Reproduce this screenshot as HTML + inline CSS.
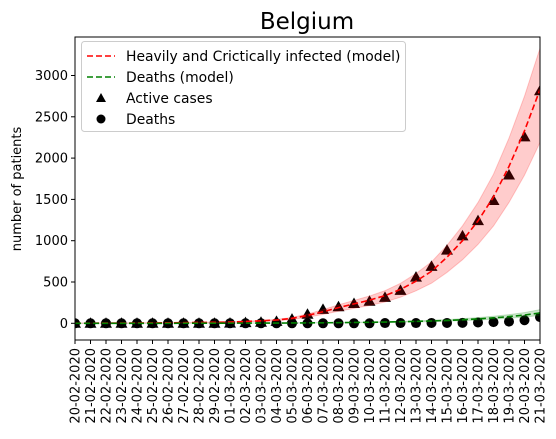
<!DOCTYPE html>
<html><head><meta charset="utf-8"><style>
body{margin:0;background:#fff;}
svg{display:block;font-family:"DejaVu Sans","Liberation Sans",sans-serif;}
</style></head><body>
<svg id="chart" width="556" height="439"></svg>
<script>
const dates=["20-02-2020","21-02-2020","22-02-2020","23-02-2020","24-02-2020","25-02-2020","26-02-2020","27-02-2020","28-02-2020","29-02-2020","01-03-2020","02-03-2020","03-03-2020","04-03-2020","05-03-2020","06-03-2020","07-03-2020","08-03-2020","09-03-2020","10-03-2020","11-03-2020","12-03-2020","13-03-2020","14-03-2020","15-03-2020","16-03-2020","17-03-2020","18-03-2020","19-03-2020","20-03-2020","21-03-2020"];
const activeCases=[1,1,1,1,1,1,1,1,1,1,2,8,13,23,50,109,169,200,239,267,314,399,559,689,886,1058,1243,1486,1795,2257,2815];
const deaths=[0,0,0,0,0,0,0,0,0,0,0,0,0,0,0,0,0,0,0,0,3,3,3,4,4,5,10,14,21,37,75];
const modelInfected=[2,2,3,3,4,5,6,8,10,12,15,22,30,40,60,95,140,190,235,280,335,410,510,630,800,1000,1240,1530,1900,2330,2830];
const infectedUpper=[2,3,3,4,5,6,7,9,12,14,18,26,35,47,71,112,165,224,277,330,395,484,602,743,944,1180,1463,1805,2242,2750,3330];
const infectedLower=[1,2,2,2,3,4,5,6,8,9,12,17,23,31,46,73,108,146,181,216,258,316,393,485,616,770,955,1178,1463,1794,2190];
const modelDeaths=[0,0,0,0,0,0,0,1,1,1,2,2,3,3,4,5,6,8,10,12,15,19,23,28,35,43,53,66,81,100,125];
const deathsUpper=[0,0,0,0,0,1,1,1,1,2,2,3,4,4,5,7,8,10,13,16,20,24,30,37,45,56,69,85,105,130,165];
const deathsLower=[0,0,0,0,0,0,0,0,1,1,1,2,2,2,3,4,5,6,7,9,11,14,17,21,26,32,40,50,61,76,95];
const yTicks=[0,500,1000,1500,2000,2500,3000];

const NS="http://www.w3.org/2000/svg";
const svg=document.getElementById('chart');
const L=75,R=540,T=37,B=340;
const X=i=>L+(R-L)*i/(dates.length-1);
const Y=v=>323.3-v*(41.3/500);
function el(tag,attrs,parent){const e=document.createElementNS(NS,tag);for(const k in attrs)e.setAttribute(k,attrs[k]);(parent||svg).appendChild(e);return e;}

const title=el('text',{x:307,y:29,'text-anchor':'middle','font-size':23});
title.textContent='Belgium';



const ylab=el('text',{transform:'translate(21,189) rotate(-90)','text-anchor':'middle','font-size':13});
ylab.textContent='number of patients';



const defs=el('defs',{});
const cp=el('clipPath',{id:'clip'},defs);el('rect',{x:L,y:T,width:R-L,height:B-T},cp);
const g=el('g',{'clip-path':'url(#clip)'});



function band(up,lo,color,name){
  let d='M'+up.map((v,i)=>X(i)+','+Y(v)).join('L');
  for(let i=lo.length-1;i>=0;i--)d+='L'+X(i)+','+Y(lo[i]);
  const p=el('path',{d:d+'Z',fill:color,'fill-opacity':0.2,stroke:color,'stroke-opacity':0.2},g);
  
  
}
function line(vals,color,name){
  const p=el('path',{d:'M'+vals.map((v,i)=>X(i)+','+Y(v)).join('L'),fill:'none',stroke:color,'stroke-width':1.6,'stroke-dasharray':'6,3'},g);
  
  
}
activeCases.forEach((v,i)=>{
  const x=X(i),y=Y(v);
  const t=el('polygon',{points:`${x},${y-6} ${x-6},${y+4.5} ${x+6},${y+4.5}`,fill:'#000'},g);
  
  
});
deaths.forEach((v,i)=>{
  const c=el('circle',{cx:X(i),cy:Y(v),r:5,fill:'#000'},g);
  
  
});
band(infectedUpper,infectedLower,'red','infected-confidence-band');
band(deathsUpper,deathsLower,'green','deaths-confidence-band');
line(modelInfected,'red','infected-model-line');
line(modelDeaths,'green','deaths-model-line');

const frame=el('rect',{x:L,y:T,width:R-L,height:B-T,fill:'none',stroke:'#000','stroke-width':1});



yTicks.forEach(v=>{
  const y=Y(v);
  el('line',{x1:L-4,x2:L,y1:y,y2:y,stroke:'#000'});
  const t=el('text',{x:L-7,y:y+4.5,'text-anchor':'end','font-size':13});
  t.textContent=v;
  
  
});
dates.forEach((d,i)=>{
  const x=X(i);
  el('line',{x1:x,x2:x,y1:B,y2:B+4,stroke:'#000'});
  const t=el('text',{transform:`translate(${x+4.5},${B+8}) rotate(-90)`,'text-anchor':'end','font-size':13});
  t.textContent=d;
  
  
});

const lg=el('g',{});


el('rect',{x:81.5,y:41.5,width:324,height:90,rx:3,fill:'#fff','fill-opacity':0.8,stroke:'#ccc'},lg);
const items=[['Heavily and Crictically infected (model)','redline'],['Deaths (model)','greenline'],['Active cases','tri'],['Deaths','dot']];
items.forEach((it,k)=>{
  const y=56+k*21;
  if(it[1]==='redline')el('line',{x1:87,x2:115,y1:y,y2:y,stroke:'red','stroke-width':1.6,'stroke-dasharray':'6,3'},lg);
  if(it[1]==='greenline')el('line',{x1:87,x2:115,y1:y,y2:y,stroke:'green','stroke-width':1.6,'stroke-dasharray':'6,3'},lg);
  if(it[1]==='tri')el('polygon',{points:`101,${y-5} 96,${y+4} 106,${y+4}`,fill:'#000'},lg);
  if(it[1]==='dot')el('circle',{cx:101,cy:y,r:4.5,fill:'#000'},lg);
  const t=el('text',{x:126,y:y+5,'font-size':13.9},lg);
  t.textContent=it[0];
  
  
});
</script>
</body></html>
